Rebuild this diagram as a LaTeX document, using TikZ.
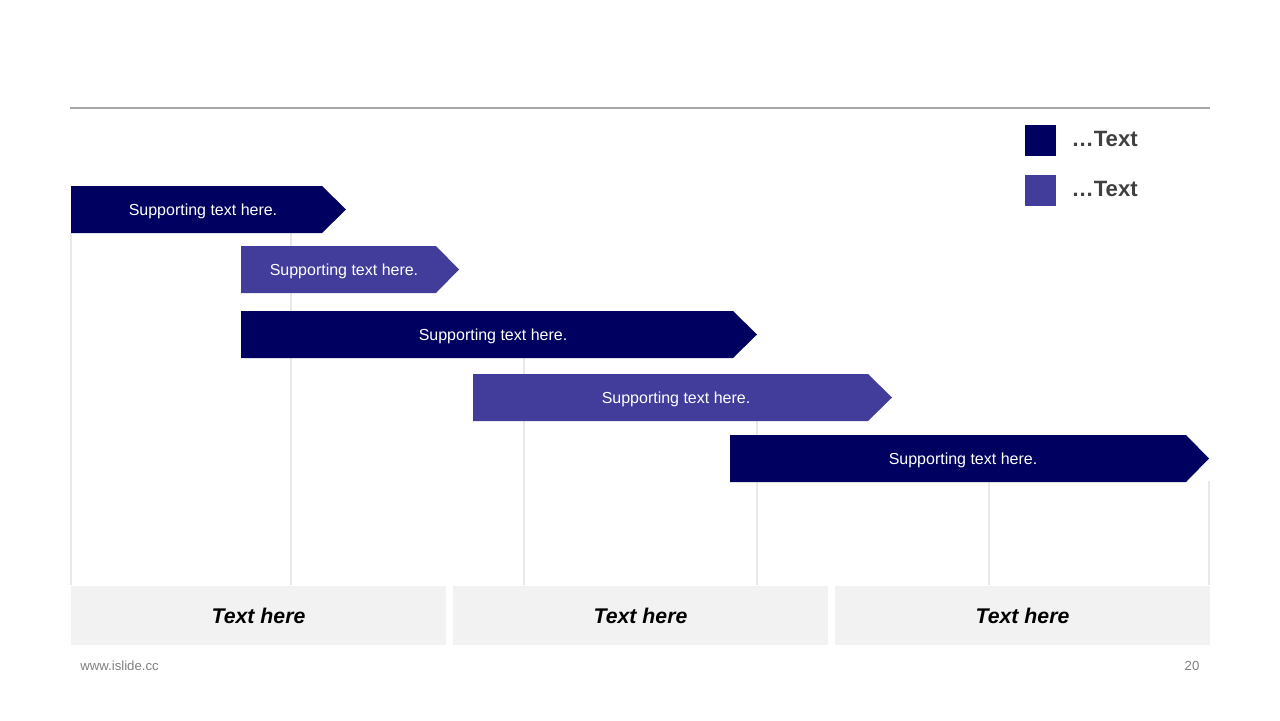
\documentclass[tikz,border=0pt]{standalone}
\usepackage{fontspec}
\setmainfont{Liberation Sans}
\usetikzlibrary{positioning}
\definecolor{fonce}{HTML}{000060}
\definecolor{clair}{HTML}{423D9B}
\definecolor{grille}{HTML}{E8E8E8}
\definecolor{fond}{HTML}{F2F2F2}
\definecolor{texte}{HTML}{404040}
\definecolor{pied}{HTML}{7F7F7F}

\begin{document}
\begin{tikzpicture}[x=0.02cm,y=-0.02cm,
    barre/.style={text=white,inner sep=0pt,font=\fontsize{9.1}{10}\selectfont},
    carre/.style={minimum size=0.62cm,inner sep=0pt},
    legende/.style={anchor=west,inner sep=0pt,text=texte,font=\fontsize{12.6}{14}\selectfont\bfseries},
    case/.style={fill=fond,minimum width=7.5cm,minimum height=1.18cm,inner sep=0pt,
      font=\fontsize{12.1}{14}\selectfont\bfseries\itshape}]
  \useasboundingbox (0,0) rectangle (1280,720);

  % Ligne du haut
  \draw[line width=0.6pt,color=black!35] (70,108) -- (1210,108);

  % Grille verticale
  \foreach \x/\y in {71/233,291/233,524/358,757/421,989/481,1209/481}
    \draw[grille,line width=0.6pt] (\x,\y) -- (\x,585);

  % Les barres fléchées
  \foreach \xa/\xb/\xc/\ya/\coul/\xt [count=\i] in {71/322/346/186/fonce/203,
      241/436/459/246/clair/344, 241/733/757/311/fonce/493,
      473/868/892/374/clair/676, 730/1186/1209/435/fonce/963}{
    \fill[\coul] (\xa,\ya) -- (\xb,\ya) -- (\xc,\ya+23.5) -- (\xb,\ya+47) -- (\xa,\ya+47) -- cycle;
    \node[barre] (b\i) at (\xt,\ya+25) {Supporting text here.};
  }

  % Légende
  \node[carre,fill=fonce] (l1) at (1040.5,140.5) {};
  \node[carre,fill=clair] (l2) at (1040.5,190.5) {};
  \node[legende,right=0.3cm of l1.east,anchor=west,yshift=0.7pt] (t1) {\dots Text};
  \node[legende,right=0.3cm of l2.east,anchor=west,yshift=0.7pt] (t2) {\dots Text};

  % Cases du bas
  \node[case] (c1) at (258.5,615.5) {Text here};
  \node[case] (c2) at (640.5,615.5) {Text here};
  \node[case] (c3) at (1022.5,615.5) {Text here};

  % Pied de page
  \node[anchor=west,inner sep=0pt,text=pied,font=\fontsize{7.5}{9}\selectfont] (site) at (80,666) {www.islide.cc};
  \node[inner sep=0pt,text=pied,font=\fontsize{7.5}{9}\selectfont] (page) at (1192,666) {20};
\end{tikzpicture}
\end{document}
